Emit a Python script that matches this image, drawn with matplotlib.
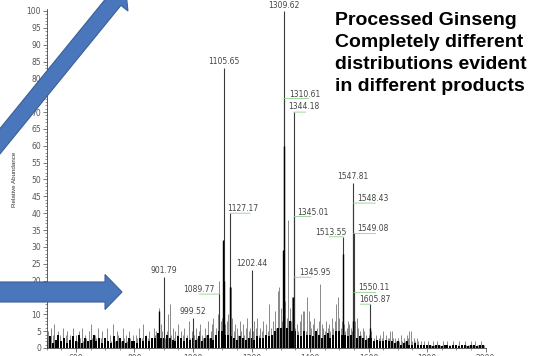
import numpy as np
import matplotlib
matplotlib.use("Agg")
import matplotlib.pyplot as plt
from matplotlib.patches import Polygon
from matplotlib.transforms import Affine2D

# labelled peaks (m/z, relative abundance %)
peak_mz = [901.79, 999.52, 1089.77, 1105.65, 1127.17, 1202.44, 1309.62, 1310.61,
           1344.18, 1345.01, 1345.95, 1513.55, 1547.81, 1548.43, 1549.08, 1550.11, 1605.87]
peak_int = [21, 9, 16, 83, 40, 23, 100, 74, 70, 39, 21, 33, 49, 43, 34, 16.5, 13]

# darker inner part of the big peaks
inner_mz = [884, 1104, 1107, 1126, 1309, 1311, 1343, 1512, 1546, 1605]
inner_int = [11, 32, 20, 18, 29, 60, 15, 28, 8, 6]

# noise spikes, one value every 5 m/z from 500 to 1995 (one row = 100 m/z)
noise_int = [
    3, 5, 2, 6, 4, 7, 2, 3, 5, 4, 2, 6, 3, 4, 5, 2, 4, 3, 6, 2,
    4, 2, 5, 3, 6, 2, 4, 3, 2, 5, 7, 3, 2, 4, 3, 6, 2, 3, 5, 2,
    3, 6, 2, 4, 2, 7, 3, 2, 5, 4, 3, 2, 6, 3, 4, 2, 5, 3, 2, 4,
    2, 4, 3, 6, 2, 3, 7, 2, 4, 3, 5, 2, 3, 6, 4, 5, 4, 12, 7, 5,
    6, 3, 5, 10, 13, 4, 6, 3, 5, 4, 7, 3, 5, 4, 6, 3, 4, 8, 3, 5,
    5, 4, 6, 3, 5, 7, 4, 3, 6, 4, 8, 3, 5, 7, 9, 4, 6, 10, 20, 8,
    9, 12, 7, 8, 10, 6, 18, 9, 5, 7, 6, 4, 8, 5, 7, 4, 6, 9, 5, 6,
    7, 5, 8, 6, 9, 4, 6, 5, 8, 4, 7, 5, 13, 6, 4, 8, 11, 6, 17, 18,
    12, 8, 10, 14, 9, 38, 12, 8, 15, 9, 6, 7, 5, 8, 10, 11, 11, 5, 15, 11,
    8, 6, 7, 9, 5, 6, 8, 19, 7, 6, 5, 8, 6, 7, 5, 9, 6, 8, 13, 15,
    9, 6, 8, 7, 5, 6, 8, 7, 6, 5, 7, 8, 9, 6, 5, 4, 6, 5, 4, 3,
    4, 3, 5, 2, 3, 4, 2, 3, 4, 3, 5, 2, 4, 3, 3, 5, 5, 3, 3, 2,
    3, 2, 4, 2, 3, 2, 4, 3, 5, 5, 2, 3, 2, 3, 2, 1, 2, 1, 2, 1,
    1, 2, 1, 1, 2, 1, 1, 2, 1, 1, 1, 2, 1, 1, 2, 1, 1, 1, 2, 1,
    1, 1, 2, 1, 1, 1, 2, 1, 1, 1, 2, 1, 1, 2, 1, 1, 1, 2, 1, 1,
]
noise_mz = np.arange(500, 2000, 5)

# dense black baseline, one value every 10 m/z from 500 to 1990
base_int = [
    2, 3.5, 1.5, 2.5, 4, 2, 3, 1.5, 2.5, 3.5,
    2, 4, 1.5, 3, 2, 2.5, 4, 2, 3, 1.5,
    3, 2, 1.5, 3.5, 2, 3, 2, 1.5, 3, 2,
    2, 1.5, 3, 2, 3.5, 2, 3, 3, 4.5, 3,
    3, 4, 3, 2.5, 2, 3.5, 3, 2, 3, 2.5,
    3, 2.5, 3.5, 2, 3, 4, 3, 2.5, 4, 5,
    5, 4, 4, 3.5, 3, 2.5, 3.5, 3, 2.5, 3,
    3, 2.5, 3.5, 3, 3, 4, 3.5, 4, 5, 6,
    6, 7, 6, 8, 5, 5, 4, 3.5, 5, 4,
    4, 3.5, 5, 4, 3, 4, 4.5, 3, 4, 5,
    5, 4, 4, 3.5, 4, 5, 3, 3.5, 3, 2.5,
    3, 3, 2, 2.5, 2, 2, 2.5, 2, 2, 1.5,
    2, 1, 1.5, 2, 1, 1, 1.5, 1, 1, 1,
    1, 1, 0.5, 1, 1, 0.5, 1, 1, 0.5, 1,
    1, 0.5, 1, 1, 0.5, 1, 1, 0.5, 1, 1,
]
base_mz = np.arange(500, 2000, 10)

W, H = 533, 356
fig = plt.figure(figsize=(W / 100, H / 100), dpi=100)
ax = fig.add_axes([0.0877, 0.0225, 0.8232, 0.9514])

ax.vlines(noise_mz, 0, noise_int, color="#6a6a6a", lw=0.55)
ax.vlines(base_mz, 0, base_int, color="black", lw=1.4)
ax.vlines(peak_mz, 0, peak_int, color="#3a3a3a", lw=0.8)
ax.vlines(inner_mz, 0, inner_int, color="black", lw=1.0)

ax.set_xlim(500, 2000)
ax.set_ylim(0, 100.5)
ax.set_xticks(range(600, 2001, 200))
ax.set_xticks(range(500, 2001, 50), minor=True)
ax.set_yticks(range(0, 101, 5))
ax.set_yticks(range(0, 101, 1), minor=True)
for s in ["top", "right"]:
    ax.spines[s].set_visible(False)
for s in ["left", "bottom"]:
    ax.spines[s].set_linewidth(0.6)
    ax.spines[s].set_color("#444")
ax.tick_params(which="major", length=3, width=0.5, color="#444",
               labelsize=5.5, labelcolor="#555", pad=1)
ax.tick_params(which="minor", length=1.5, width=0.4, color="#444")

# peak labels: (x offset px, y offset px, ha, leader length px)
label_style = [
    (0, 2, "center", 0), (0, 2, "center", 0), (-5, 0, "right", -20),
    (0, 2, "center", 0), (-3, 0, "left", 20), (0, 2, "center", 0),
    (0, 1, "center", 0), (5, 0, "left", 25), (-5, 1, "left", 12),
    (3, 0, "left", 17), (5, 0, "left", 17), (3, 0, "right", -14),
    (0, 2, "center", 0), (4, 0, "left", 22), (4, 0, "left", 22),
    (4, 0, "left", 22), (-11, 0, "left", -10),
]
for mz, h, (tx, ty, ha, lx) in zip(peak_mz, peak_int, label_style):
    if lx:
        ax.annotate("", xy=(mz, h), xytext=(lx, 0), textcoords="offset pixels",
                    arrowprops=dict(arrowstyle="-", color="#8fd18f", lw=0.6,
                                    shrinkA=0, shrinkB=0))
    ax.annotate("%.2f" % mz, xy=(mz, h), xytext=(tx, ty), textcoords="offset pixels",
                ha=ha, va="bottom", fontsize=5.5, color="#444",
                annotation_clip=False)

fig.text(15 / W, 1 - 179 / H, "Relative Abundance", rotation=90, fontsize=4.5,
         family="Liberation Sans", color="#333", ha="center", va="center")

fig.text(335 / W, 1 - 12 / H,
         "Processed Ginseng\nCompletely different\ndistributions evident\nin different products",
         ha="left", va="top", fontsize=14, fontweight="bold",
         family="Liberation Sans", linespacing=1.38, color="black")

# blue block arrows, drawn in pixel coords (origin top-left)
px = Affine2D().scale(1, -1).translate(0, H).scale(1 / 100) + fig.dpi_scale_trans


def block_arrow(tail, tip, width, head_w, head_l):
    tail = np.array(tail, float)
    tip = np.array(tip, float)
    d = (tip - tail) / np.linalg.norm(tip - tail)
    n = np.array([-d[1], d[0]])
    b = tip - d * head_l
    pts = [tail + n * width / 2, b + n * width / 2, b + n * head_w / 2, tip,
           b - n * head_w / 2, b - n * width / 2, tail - n * width / 2]
    fig.add_artist(Polygon(pts, closed=True, transform=px, facecolor="#4a76bb",
                           edgecolor="#3b5f96", lw=0.8, zorder=10))


ang = np.radians(51)
block_arrow((-30, 141 + 30 * np.tan(ang)), (125.5, -12.9), 16, 34, 17)
block_arrow((-10, 292), (122, 292), 20, 35, 17)

fig.savefig("out.png", dpi=100)
